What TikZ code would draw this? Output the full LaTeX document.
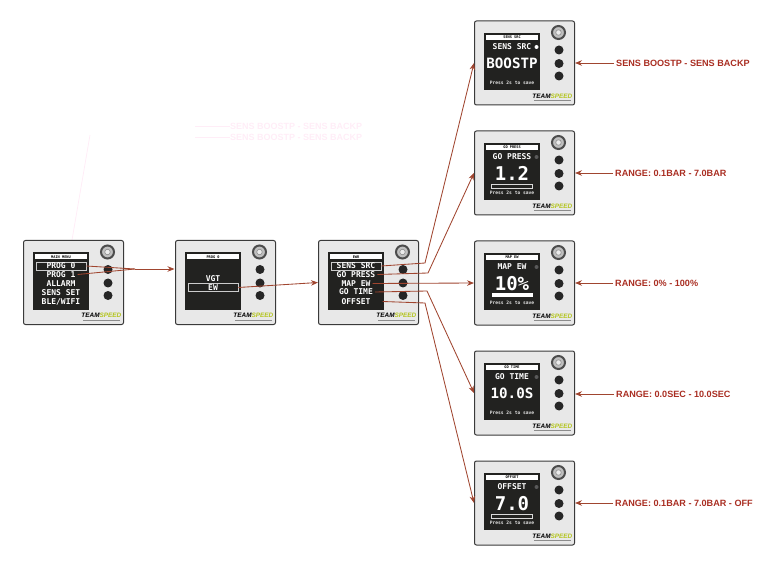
\documentclass[tikz,border=0pt]{standalone}
\usepackage{fontspec}
\setmainfont{Liberation Sans}
\newfontfamily\scrfont{DejaVu Sans Mono}
\usetikzlibrary{arrows.meta}
\definecolor{linecol}{HTML}{A0452F}
\definecolor{labcol}{HTML}{A92E22}
\definecolor{devfill}{HTML}{E8E8E8}
\definecolor{devline}{HTML}{3A3A3A}
\definecolor{scrcol}{HTML}{222220}
\definecolor{spd}{HTML}{B4C41E}
\definecolor{ghost}{HTML}{FFEDF7}
\newcommand\fsz[1]{\fontsize{#1}{#1}\selectfont}
\tikzset{
  devbox/.style={draw=devline,fill=devfill,line width=1pt,rounded corners=2pt,minimum width=100pt,minimum height=84pt,anchor=north west,inner sep=0pt},
  screenbox/.style={fill=scrcol,minimum width=56pt,minimum height=57pt,inner sep=0pt},
  titlebar/.style={fill=white,text=black,minimum width=52pt,minimum height=5pt,inner sep=0pt,font=\scrfont\bfseries\fsz{3.6}},
  rowtext/.style={text=white,inner sep=2pt,font=\scrfont\bfseries\fsz{8}},
  headtext/.style={text=white,inner sep=0pt,font=\scrfont\bfseries\fsz{8}},
  bigtext/.style={text=white,inner sep=0pt,font=\scrfont\bfseries\fsz{#1}},
  presstext/.style={text=white!90!black,inner sep=0pt,font=\scrfont\bfseries\fsz{4.6}},
  hlbox/.style={draw=white!80!black,line width=0.6pt,minimum width=50pt,minimum height=8pt,inner sep=0pt},
  knob/.style={circle,draw=black!70,line width=2pt,fill=white!75!black,minimum size=13pt,inner sep=0pt},
  knobin/.style={circle,draw=black!45,line width=0.6pt,fill=white!92!black,minimum size=5.5pt,inner sep=0pt},
  btn/.style={circle,fill=black!85,minimum size=9pt,inner sep=0pt},
  conn/.style={draw=linecol,line width=0.85pt},
  arr/.style={conn,-{Stealth[length=7pt,width=5.5pt]}},
  rangelabel/.style={text=labcol,anchor=west,inner sep=2pt,font=\bfseries\fsz{9.1}},
  logotext/.style={inner sep=0pt,font=\bfseries\itshape\fsz{6.4}},
  logoline/.style={draw=black!45,line width=0.8pt},
  emptybar/.style={draw=white!85!black,line width=0.6pt,minimum width=41pt,minimum height=4pt,inner sep=0pt},
  fullbar/.style={fill=white,minimum width=41pt,minimum height=4pt,inner sep=0pt},
  ghosttext/.style={text=ghost,anchor=west,inner sep=0pt,font=\bfseries\fsz{9}}
}
% id, x, y, title, body
\newcommand\device[5]{%
  \node[devbox] (#1) at (#2,#3) {};
  \begin{scope}[shift={(#2,#3)}]
    \node[screenbox] (#1scr) at (38,41) {};
    \node[titlebar] (#1title) at (38,17) {#4};
    \node[knob] (#1knob) at (84.5,12) {};
    \node[knobin] (#1knobin) at (84.5,12) {};
    \node[btn] (#1b1) at (85,29.5) {};
    \node[btn] (#1b2) at (85,43) {};
    \node[btn] (#1b3) at (85,55.5) {};
    \node[logotext,anchor=east] (#1logo) at (98.5,75.5) {\textcolor{black}{TEAM}\textcolor{spd}{SPEED}};
    \coordinate (#1la) at (60,80);
    \coordinate (#1lb) at (97,80);
    \draw[logoline] (#1la) -- (#1lb);
    #5
  \end{scope}
}
% value screens: id y title head big size dotcolour
\newcommand\valscreen[7]{%
  \device{#1}{474}{#2}{#3}{%
    \node[headtext] (#1head) at (38,26.5) {#4};
    \node[circle,fill=#7,minimum size=4pt,inner sep=0pt] (#1dot) at (62.5,26.5) {};
    \node[bigtext=#6] (#1big) at (38,43) {#5};
    \node[presstext] (#1save) at (38,62) {Press 2s to save};
  }
}
\begin{document}
\begin{tikzpicture}[x=1pt,y=-1pt]
\useasboundingbox (0,0) rectangle (768,561);
% faint residual marks
\coordinate (ga) at (90,135);
\coordinate (gb) at (72,240);
\draw[ghost,line width=0.8pt] (ga) -- (gb);
\node[ghosttext] (gt1) at (230,126) {SENS BOOSTP - SENS BACKP};
\node[ghosttext] (gt2) at (230,137) {SENS BOOSTP - SENS BACKP};
\draw[ghost,line width=0.8pt] (gt1.west) -- ++(-35,0);
\draw[ghost,line width=0.8pt] (gt2.west) -- ++(-35,0);

\device{d1}{23}{240}{MAIN MENU}{%
  \node[hlbox] (p0box) at (38,26) {};
  \node[rowtext] (p0) at (38,26) {PROG 0};
  \node[rowtext] (p1) at (38,34.5) {PROG 1};
  \node[rowtext] (p2) at (38,43.5) {ALLARM};
  \node[rowtext] (p3) at (38,52.5) {SENS SET};
  \node[rowtext] (p4) at (38,61.5) {BLE/WIFI};
}
\device{d2}{175}{240}{PROG 0}{%
  \node[rowtext] (v1) at (38,39) {VGT};
  \node[hlbox] (v2box) at (38,47.5) {};
  \node[rowtext] (v2) at (38,47.5) {EW};
}
\device{d3}{318}{240}{EWR}{%
  \node[hlbox] (r1box) at (38,26) {};
  \node[rowtext] (r1) at (38,26) {SENS SRC};
  \node[rowtext] (r2) at (38,34.5) {GO PRESS};
  \node[rowtext] (r3) at (38,43.5) {MAP EW};
  \node[rowtext] (r4) at (38,52) {GO TIME};
  \node[rowtext] (r5) at (38,61.5) {OFFSET};
}
\valscreen{s1}{20.5}{SENS SRC}{SENS SRC}{BOOSTP}{14.2}{white}
\valscreen{s2}{130.5}{GO PRESS}{GO PRESS}{1.2}{19}{black!65}
\node[emptybar] (s2bar) at (512,186) {};
\valscreen{s3}{240.5}{MAP EW}{MAP EW}{10\%}{19}{black!65}
\node[fullbar] (s3bar) at (512,295) {};
\valscreen{s4}{350.5}{GO TIME}{GO TIME}{10.0S}{14.2}{black!65}
\valscreen{s5}{460.5}{OFFSET}{OFFSET}{7.0}{19}{black!65}
\node[emptybar] (s5bar) at (512,516) {};

% connectors
\coordinate (j1) at (135,269);
\coordinate (t2) at (174.5,269);
\draw[conn] (p0box.east) -- (j1);
\draw[conn] (p1.east) -- (j1);
\draw[arr] (j1) -- (t2);
\draw[arr] (v2box.east) -- (d3.west);
\coordinate (e1) at (425,263);
\coordinate (e2) at (428,273);
\coordinate (e4) at (427,291);
\coordinate (e5) at (425,303);
\draw[arr] (r1box.east) -- (e1) -- (s1.west);
\draw[arr] (r2.east) -- (e2) -- (s2.west);
\draw[arr] (r3.east) -- (s3.west);
\draw[arr] (r4.east) -- (e4) -- (s4.west);
\draw[arr] ([xshift=10pt]r5.east) -- (e5) -- (s5.west);

% range labels
\node[rangelabel] (l1) at (614,63) {SENS BOOSTP - SENS BACKP};
\node[rangelabel] (l2) at (613,173) {RANGE: 0.1BAR - 7.0BAR};
\node[rangelabel] (l3) at (613,283) {RANGE: 0\% - 100\%};
\node[rangelabel] (l4) at (614,394) {RANGE: 0.0SEC - 10.0SEC};
\node[rangelabel] (l5) at (613,503) {RANGE: 0.1BAR - 7.0BAR - OFF};
\foreach \i in {1,...,5} {
  \draw[arr] (l\i.west) -- (s\i.east |- l\i.west);
}
\end{tikzpicture}
\end{document}
